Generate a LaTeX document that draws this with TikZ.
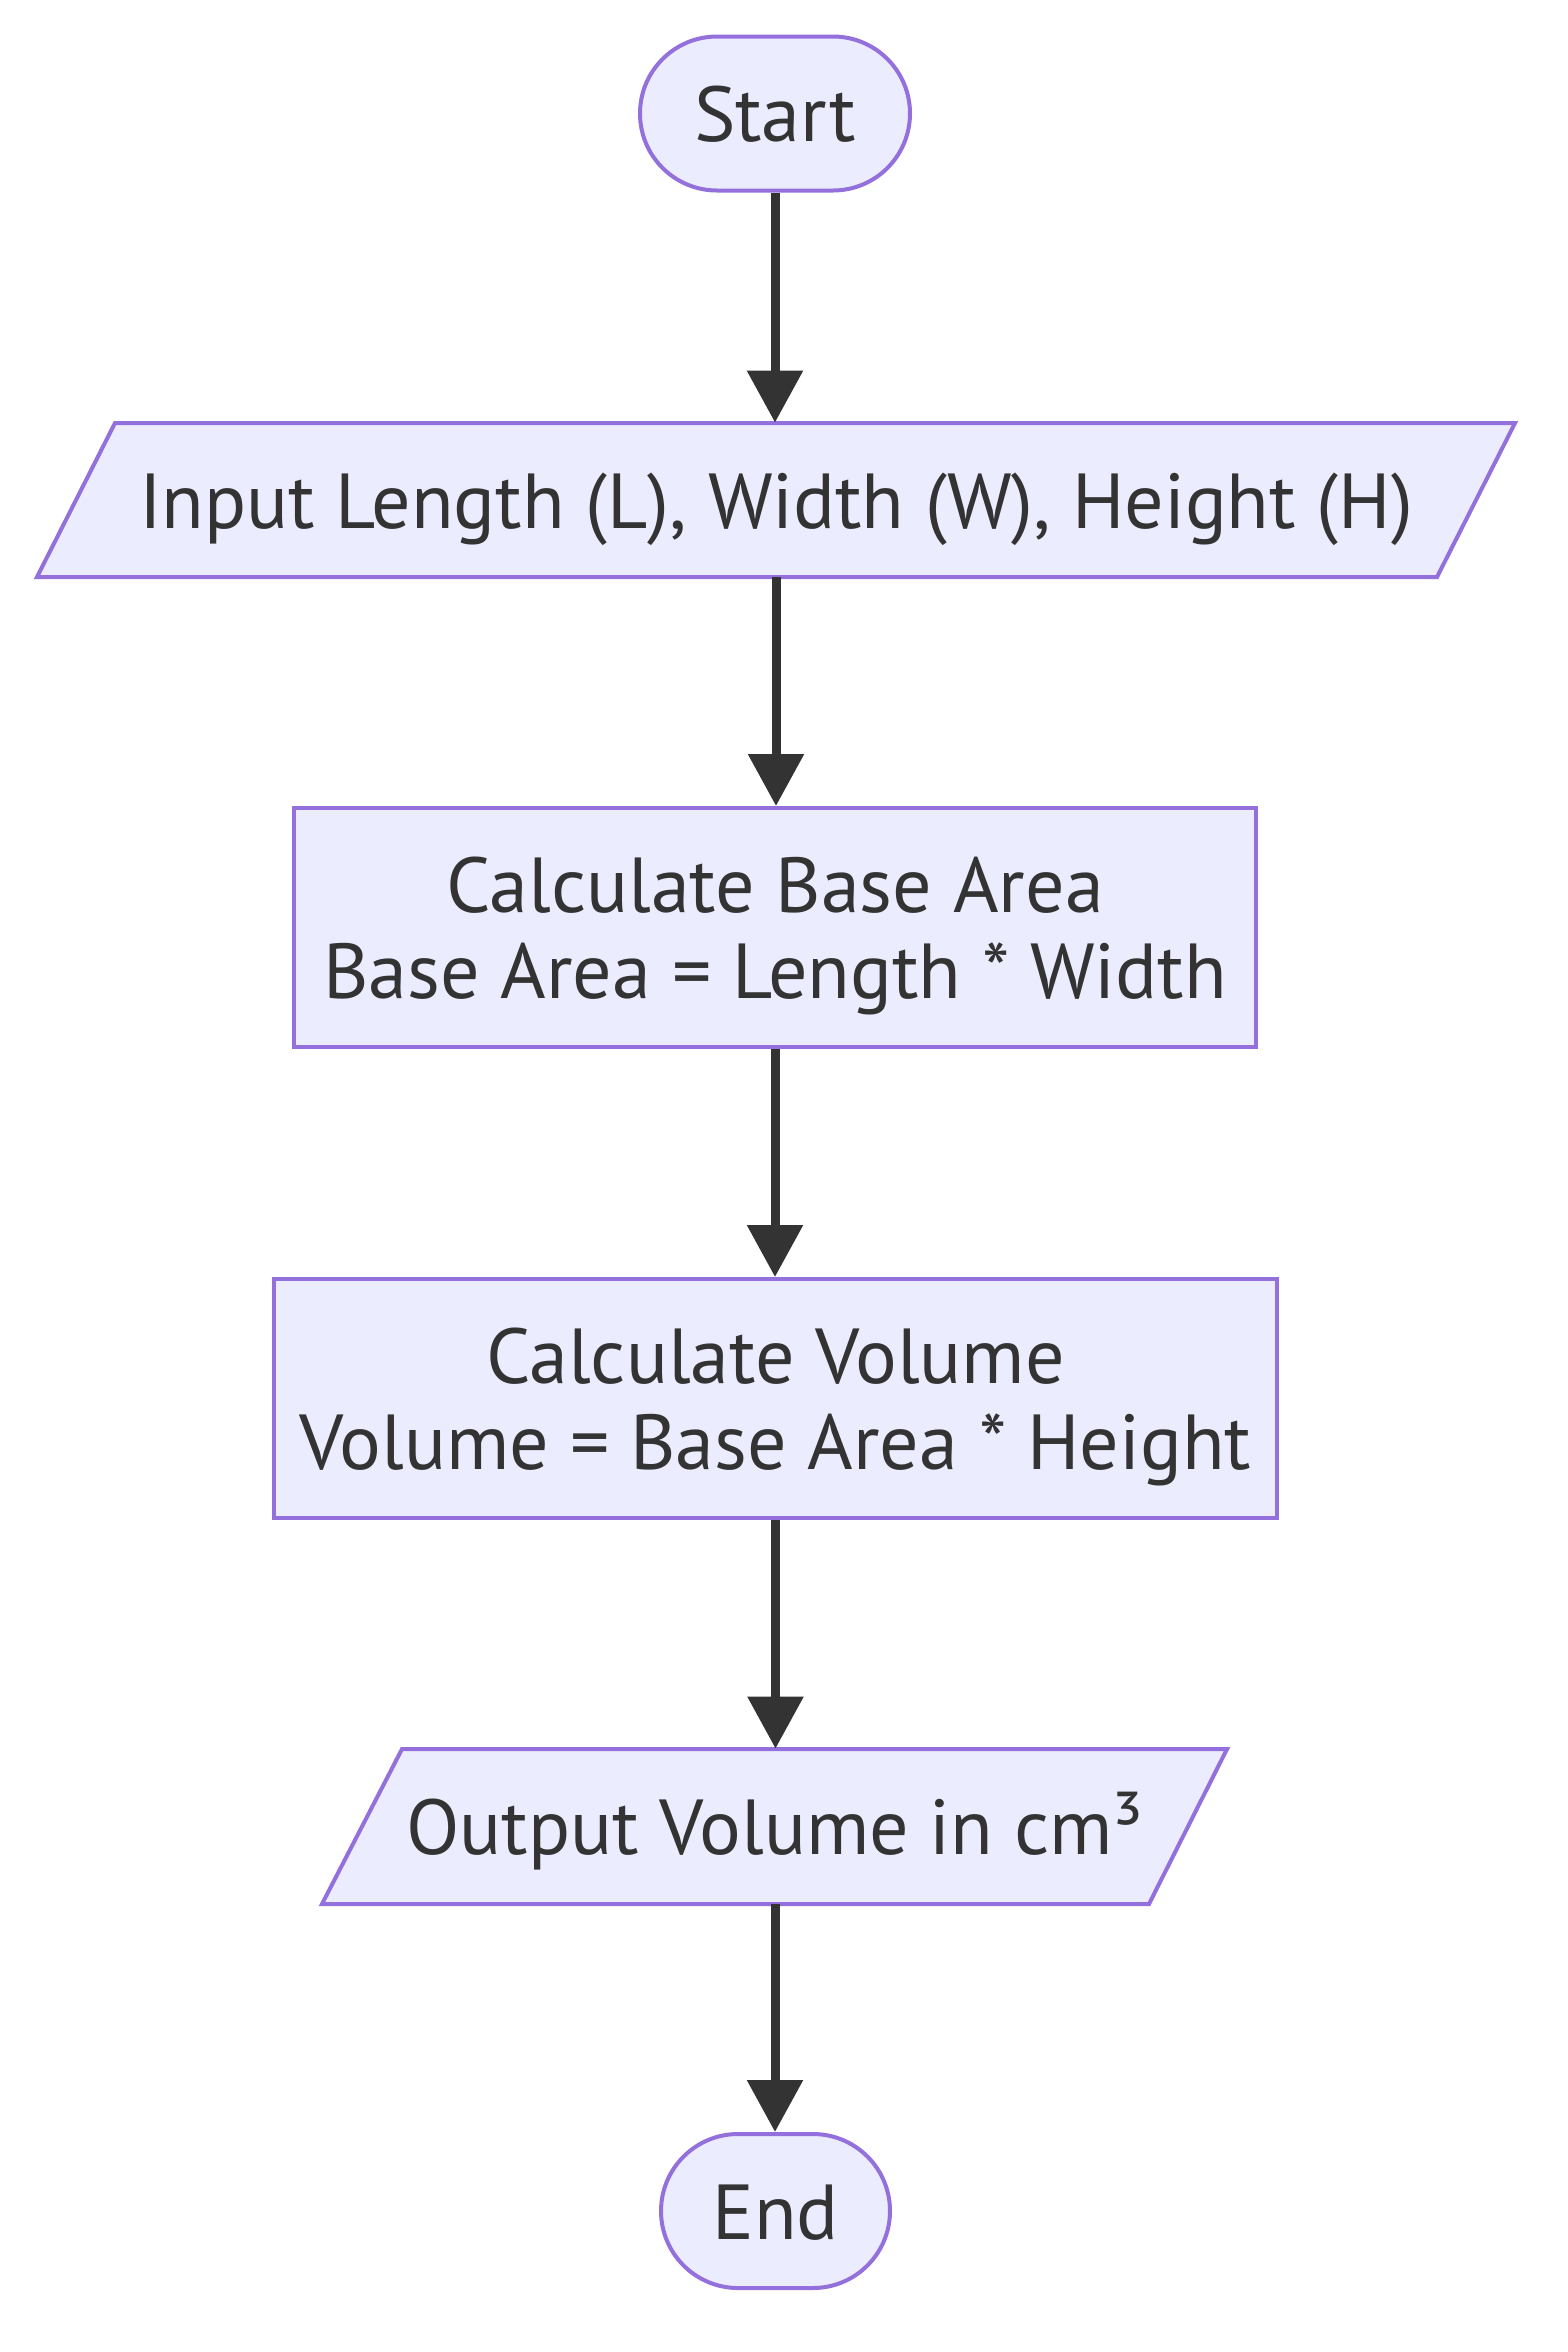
\documentclass[tikz,border=0pt]{standalone}
\usepackage{fontspec}
\setmainfont{PT Sans}
\usetikzlibrary{arrows.meta}
\definecolor{nodefill}{HTML}{ECECFF}
\definecolor{nodeline}{HTML}{9370DB}
\definecolor{ink}{HTML}{333333}
\tikzset{
  box/.style={draw=nodeline, fill=nodefill, line width=2pt},
  txt/.style={inner sep=0pt, text=ink, font=\fontsize{39pt}{43pt}\selectfont, align=center},
  oneline/.style={txt, text height=28pt, text depth=0pt},
  rbox/.style={box, txt, rectangle},
  term/.style={box, oneline, rectangle, rounded corners=38.5pt},
  arr/.style={draw=ink, line width=4.5pt, -{Triangle[length=26pt, width=27pt]}}
}
\begin{document}
\begin{tikzpicture}[x=0.5pt, y=-0.5pt]
\useasboundingbox[fill=white] (0,0) rectangle (1568,2352);
% Start
\node[term, minimum width=135pt, minimum height=77pt] (start) at (775,113.5) {Start};
% Input parallelogram
\path[box] (115,423) -- (1515,423) -- (1437,577) -- (37,577) -- cycle;
\node[oneline, minimum width=700pt, minimum height=77pt] (in) at (776,500) {Input Length (L), Width (W), Height (H)};
% Base area
\node[rbox, minimum width=481pt, minimum height=119.5pt] (base) at (775,927.5) {Calculate Base Area\\\smash{Base Area = Length * Width}};
% Volume
\node[rbox, minimum width=501.5pt, minimum height=119.5pt] (vol) at (775.5,1398.5) {Calculate Volume\\\smash{Volume = Base Area * Height}};
% Output parallelogram
\path[box] (402,1749) -- (1227,1749) -- (1149,1904) -- (322,1904) -- cycle;
\node[oneline, minimum width=413pt, minimum height=77.5pt] (out) at (775,1826.5) {Output Volume in cm³};
% End
\node[term, minimum width=114.5pt, minimum height=77pt] (end) at (775.5,2211) {End};
% Connectors
\draw[arr] (start.south) -- (start.south |- in.north);
\draw[arr] (in.south) -- (in.south |- base.north);
\draw[arr] (base.south) -- (base.south |- vol.north);
\draw[arr] (vol.south) -- (vol.south |- out.north);
\draw[arr] (out.south) -- (out.south |- end.north);
\end{tikzpicture}
\end{document}
